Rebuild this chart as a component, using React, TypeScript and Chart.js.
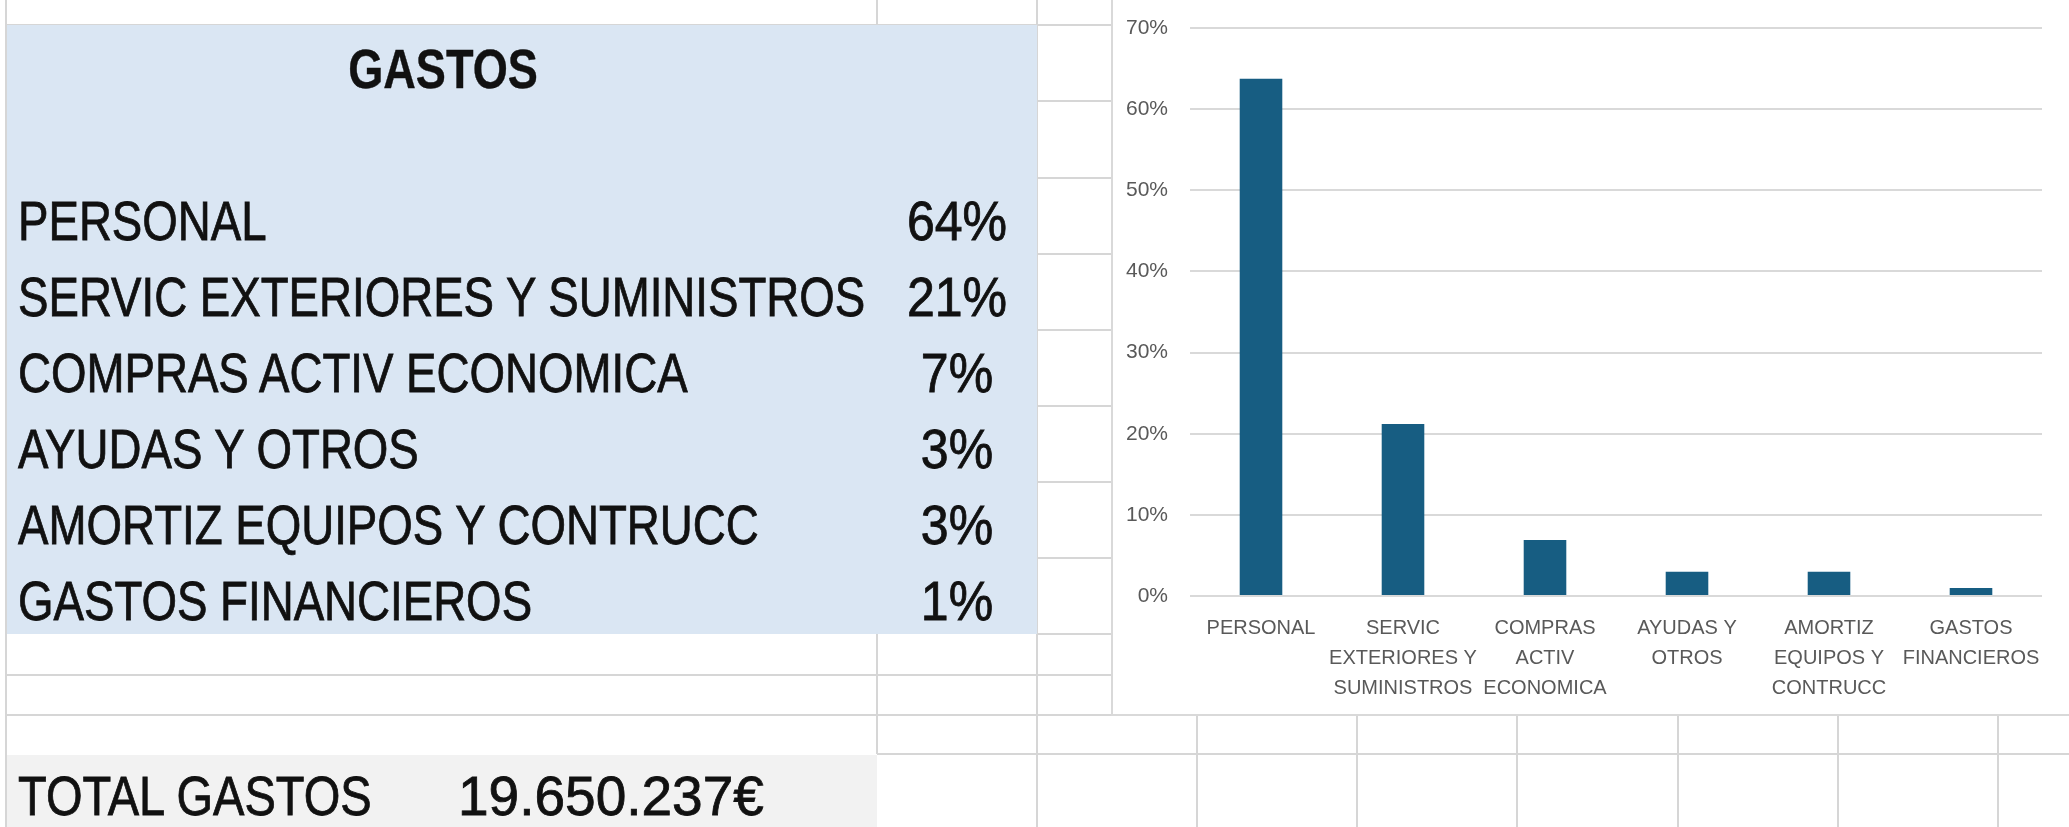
import React, { useEffect, useRef } from 'react';
import { Chart, registerables } from 'chart.js';

Chart.register(...registerables);

// ---------- DATA ----------
const tableTitle = 'GASTOS';
const categories = [
  'PERSONAL',
  'SERVIC EXTERIORES Y SUMINISTROS',
  'COMPRAS ACTIV ECONOMICA',
  'AYUDAS Y OTROS',
  'AMORTIZ EQUIPOS Y CONTRUCC',
  'GASTOS FINANCIEROS',
];
const tablePercents = ['64%', '21%', '7%', '3%', '3%', '1%'];
const chartLabels = [
  ['PERSONAL'],
  ['SERVIC', 'EXTERIORES Y', 'SUMINISTROS'],
  ['COMPRAS', 'ACTIV', 'ECONOMICA'],
  ['AYUDAS Y', 'OTROS'],
  ['AMORTIZ', 'EQUIPOS Y', 'CONTRUCC'],
  ['GASTOS', 'FINANCIEROS'],
];
const values = [0.6375, 0.212, 0.069, 0.03, 0.03, 0.01];
const yMin = 0;
const yMax = 0.7;
const yStep = 0.1;
const totalLabel = 'TOTAL GASTOS';
const totalValue = '19.650.237€';

const FAMILY = '"Liberation Sans", Arial, sans-serif';
const GRID = '#d6d6d6';

function HLine({ y, x1, x2 }: { y: number; x1: number; x2: number }) {
  return <div style={{ position: 'absolute', left: x1, top: y - 1, width: x2 - x1, height: 2, background: GRID }} />;
}
function VLine({ x, y1, y2 }: { x: number; y1: number; y2: number }) {
  return <div style={{ position: 'absolute', left: x - 1, top: y1, width: 2, height: y2 - y1, background: GRID }} />;
}

function Txt({ left, top, text, bold, center, sx }: { left: number; top: number; text: string; bold?: boolean; center?: boolean; sx: number }) {
  const style: React.CSSProperties = {
    position: 'absolute',
    top,
    fontFamily: FAMILY,
    fontSize: 55,
    lineHeight: '76px',
    fontWeight: bold ? 700 : 400,
    color: '#111',
    whiteSpace: 'nowrap',
    WebkitTextStroke: bold ? '0.4px #111' : '0.8px #111',
    transform: `scaleX(${sx})`,
  };
  if (center) {
    style.left = left - 200;
    style.width = 400;
    style.textAlign = 'center';
    style.transformOrigin = 'center';
  } else {
    style.left = left;
    style.transformOrigin = 'left';
  }
  return <div style={style}>{text}</div>;
}

function BarChart() {
  const ref = useRef<HTMLCanvasElement>(null);
  useEffect(() => {
    if (!ref.current) return;
    const tickFont = { family: FAMILY, size: 20, lineHeight: '30px' };
    const chart = new Chart(ref.current, {
      type: 'bar',
      data: {
        labels: chartLabels,
        datasets: [
          {
            data: values,
            backgroundColor: '#175d82',
            barPercentage: 0.3,
            categoryPercentage: 1.0,
          },
        ],
      },
      options: {
        animation: false,
        responsive: false,
        maintainAspectRatio: false,
        layout: { padding: { top: 28, right: 27, bottom: 0, left: 0 } },
        plugins: { legend: { display: false }, tooltip: { enabled: false } },
        scales: {
          x: {
            grid: { display: false },
            border: { display: false },
            ticks: { color: '#595959', font: tickFont, padding: 9, maxRotation: 0, autoSkip: false },
            afterFit: (s: any) => {
              s.height = 120;
              s.paddingLeft = 0;
              s.paddingRight = 0;
            },
          },
          y: {
            min: yMin,
            max: yMax,
            grid: { color: '#d9d9d9', lineWidth: 2, drawTicks: false },
            border: { display: false },
            ticks: {
              stepSize: yStep,
              color: '#595959',
              font: { family: FAMILY, size: 21 },
              padding: 22,
              callback: (v: any) => Math.round(Number(v) * 100) + '%',
            },
            afterFit: (s: any) => {
              s.width = 77;
              s.paddingTop = 0;
              s.paddingBottom = 0;
            },
          },
        },
      },
    });
    return () => chart.destroy();
  }, []);
  return <canvas ref={ref} width={956} height={716} style={{ width: 956, height: 716, display: 'block' }} />;
}

export default function App() {
  const rowTops = [25, 101, 178, 254, 330, 406, 482, 558, 634, 675, 715, 754];
  const bottomCols = [1197, 1357, 1517, 1678, 1838, 1998];
  return (
    <div
      style={{
        position: 'absolute',
        left: 0,
        top: 0,
        width: 2069,
        height: 827,
        overflow: 'hidden',
        background: '#ffffff',
      }}
    >
      {/* spreadsheet grid */}
      <VLine x={6} y1={0} y2={827} />
      <VLine x={877} y1={0} y2={25} />
      <VLine x={877} y1={634} y2={754} />
      <VLine x={1037} y1={0} y2={827} />
      {rowTops.map((y, i) => (
        <HLine key={'r' + i} y={y} x1={1037} x2={1113} />
      ))}
      <HLine y={25} x1={6} x2={1037} />
      <HLine y={675} x1={6} x2={1037} />
      <HLine y={715} x1={6} x2={1037} />
      <HLine y={754} x1={877} x2={2069} />
      {bottomCols.map((x, i) => (
        <VLine key={'c' + i} x={x} y1={716} y2={827} />
      ))}

      {/* blue table */}
      <div style={{ position: 'absolute', left: 7, top: 25, width: 1030, height: 609, background: '#dae6f3' }} />
      {/* total row */}
      <div style={{ position: 'absolute', left: 7, top: 755, width: 870, height: 72, background: '#f2f2f2' }} />

      <Txt left={443} top={31} text={tableTitle} bold center sx={0.82} />
      {categories.map((c, i) => (
        <Txt key={'t' + i} left={18} top={182.6 + 76 * i} text={c} sx={0.83} />
      ))}
      {tablePercents.map((p, i) => (
        <Txt key={'p' + i} left={957} top={182.6 + 76 * i} text={p} center sx={0.91} />
      ))}
      <Txt left={18} top={758} text={totalLabel} sx={0.855} />
      <Txt left={458} top={758} text={totalValue} sx={1.0} />

      {/* chart box */}
      <div
        style={{
          position: 'absolute',
          left: 1111,
          top: -3,
          width: 1000,
          height: 719,
          border: '2px solid #d9d9d9',
          background: '#ffffff',
          boxSizing: 'border-box',
        }}
      />
      <div style={{ position: 'absolute', left: 1113, top: 0, width: 956, height: 716 }}>
        <BarChart />
      </div>
    </div>
  );
}
